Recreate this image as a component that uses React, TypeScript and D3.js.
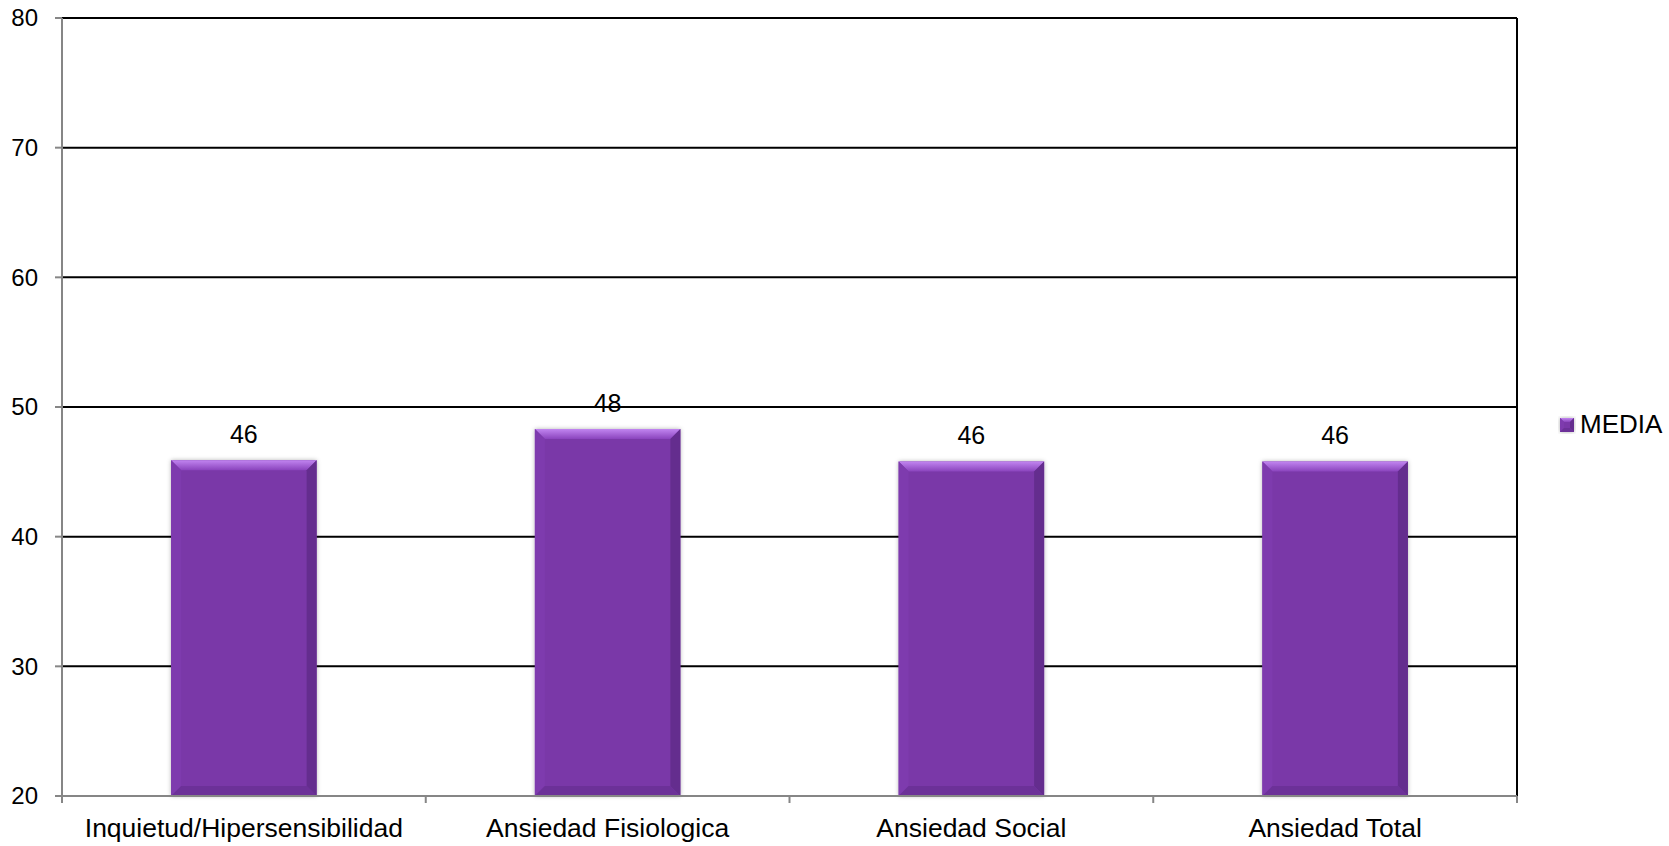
import React from 'react';
import * as d3 from 'd3';

const categories = ['Inquietud/Hipersensibilidad', 'Ansiedad Fisiologica', 'Ansiedad Social', 'Ansiedad Total'];
const mediaValues = [45.9, 48.3, 45.8, 45.8];
const valueLabels = ['46', '48', '46', '46'];
const yTicks = [20, 30, 40, 50, 60, 70, 80];
const seriesName = 'MEDIA';

const width = 1669;
const height = 846;
const margin = { top: 18, right: 152, bottom: 50, left: 62 };
const font = '"Liberation Sans", Arial, sans-serif';

const App: React.FC = () => {
  const innerW = width - margin.left - margin.right;
  const innerH = height - margin.top - margin.bottom;

  const x = d3.scaleBand<string>().domain(categories).range([0, innerW]).paddingInner(0).paddingOuter(0);
  const y = d3.scaleLinear().domain([20, 80]).range([innerH, 0]);
  const barW = x.bandwidth() * 0.4;
  const bevel = 10;

  // bar with a bevelled look, like the office "bevel" effect
  const bevelBar = (bx: number, by: number, w: number, h: number, b: number, key: string | number) => (
    <g key={key}>
      <rect x={bx} y={by} width={w} height={h} fill="#7a38a8" filter="url(#shadow)" />
      <polygon points={`${bx},${by} ${bx + w},${by} ${bx + w - b},${by + b} ${bx + b},${by + b}`} fill="url(#topBevel)" />
      <polygon points={`${bx},${by} ${bx + b},${by + b} ${bx + b},${by + h - b} ${bx},${by + h}`} fill="#7e3bae" />
      <polygon points={`${bx + w},${by} ${bx + w},${by + h} ${bx + w - b},${by + h - b} ${bx + w - b},${by + b}`} fill="#642d8e" />
      <polygon points={`${bx},${by + h} ${bx + b},${by + h - b} ${bx + w - b},${by + h - b} ${bx + w},${by + h}`} fill="#6c3198" />
    </g>
  );

  return (
    <svg width={width} height={height} style={{ position: 'absolute', left: 0, top: 0, background: '#fff' }}>
      <defs>
        <linearGradient id="topBevel" x1="0" y1="0" x2="0" y2="1">
          <stop offset="0" stopColor="#c185f0" />
          <stop offset="1" stopColor="#8a44bd" />
        </linearGradient>
        <filter id="shadow" x="-10%" y="-10%" width="120%" height="120%">
          <feDropShadow dx="0" dy="0" stdDeviation="2" floodColor="#000" floodOpacity="0.3" />
        </filter>
      </defs>
      <g transform={`translate(${margin.left},${margin.top})`}>
        {/* gridlines */}
        {yTicks.filter(t => t > 20).map(t => (
          <line key={t} x1={0} x2={innerW} y1={y(t)} y2={y(t)} stroke="#000" strokeWidth={2} />
        ))}
        <line x1={innerW} x2={innerW} y1={0} y2={innerH} stroke="#000" strokeWidth={2} />

        {/* bars */}
        {categories.map((c, i) => {
          const bx = (x(c) ?? 0) + (x.bandwidth() - barW) / 2;
          const by = y(mediaValues[i]);
          return bevelBar(bx, by, barW, innerH - by, bevel, c);
        })}

        {/* value labels */}
        {categories.map((c, i) => (
          <text key={c} x={(x(c) ?? 0) + x.bandwidth() / 2} y={y(mediaValues[i]) - 17}
            textAnchor="middle" fontFamily={font} fontSize={25} fill="#000">{valueLabels[i]}</text>
        ))}

        {/* y axis */}
        <line x1={0} x2={0} y1={0} y2={innerH} stroke="#868686" strokeWidth={2} />
        {yTicks.map(t => (
          <g key={t}>
            <line x1={-7} x2={0} y1={y(t)} y2={y(t)} stroke="#868686" strokeWidth={2} />
            <text x={-24} y={y(t)} dy="0.35em" textAnchor="end" fontFamily={font} fontSize={24} fill="#000">{t}</text>
          </g>
        ))}

        {/* x axis */}
        <line x1={0} x2={innerW} y1={innerH} y2={innerH} stroke="#868686" strokeWidth={2} />
        {[...categories.map(c => x(c) ?? 0), innerW].map((tx, i) => (
          <line key={i} x1={tx} x2={tx} y1={innerH} y2={innerH + 7} stroke="#868686" strokeWidth={2} />
        ))}
        {categories.map(c => (
          <text key={c} x={(x(c) ?? 0) + x.bandwidth() / 2} y={innerH + 41}
            textAnchor="middle" fontFamily={font} fontSize={26.5} fill="#000">{c}</text>
        ))}
      </g>

      {/* legend */}
      <g transform="translate(1560,418)">
        {bevelBar(0, 0, 14, 14, 4, 'legend')}
        <text x={20} y={15} fontFamily={font} fontSize={26} fill="#000">{seriesName}</text>
      </g>
    </svg>
  );
};

export default App;
